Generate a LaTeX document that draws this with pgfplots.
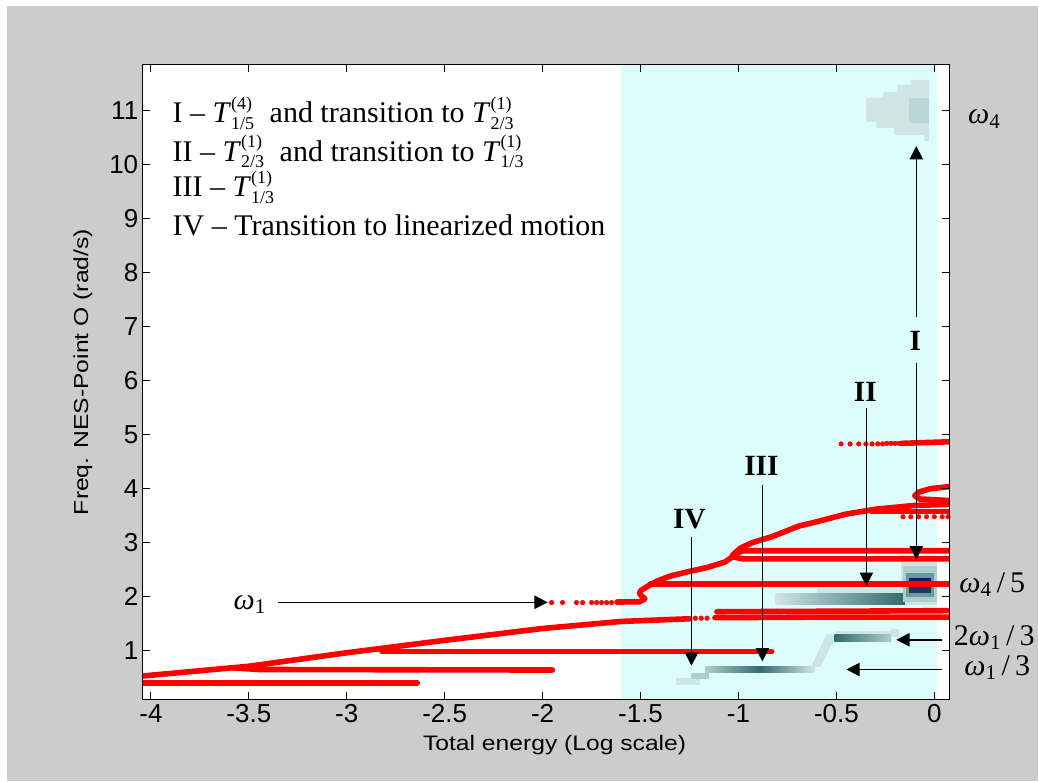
\documentclass[border=0pt]{standalone}
\usepackage{graphicx}
\usepackage{amsmath}
\usepackage{fontspec}
\setmainfont{Liberation Serif}
\newfontfamily\arial{Liberation Sans}
\usepackage{pgfplots}
\pgfplotsset{compat=1.18}
\usetikzlibrary{arrows.meta}

\definecolor{bggray}{RGB}{204,204,204}
\definecolor{cyanbg}{RGB}{221,253,253}
\definecolor{tLL}{RGB}{208,228,228}
\definecolor{tL}{RGB}{172,206,206}
\definecolor{tM}{RGB}{105,155,158}
\definecolor{tD}{RGB}{48,106,110}
\definecolor{tN}{RGB}{22,28,88}
\definecolor{tN2}{RGB}{40,50,105}

% regime symbol T with stacked upper and lower indices
\newcommand{\Tr}[2]{\textit{T}$^{\text{\fontsize{13.5}{14}\selectfont(#1)}}_{\text{\fontsize{13.5}{14}\selectfont #2}}$}

\tikzset{
  redline/.style={red, line width=4.2pt, line join=round, line cap=round},
  reddots/.style={red, only marks, mark=*, mark size=1.7pt},
  ann/.style={line width=1.1pt, -{Triangle[length=10pt,width=10pt]}},
  lbl/.style={font=\fontsize{22.5}{27}\selectfont},
  roman/.style={font=\bfseries\fontsize{22}{24}\selectfont},
}

\begin{document}
\begin{tikzpicture}[x=1pt,y=1pt]
\fill[white] (0,0) rectangle (779.25,586.5);
\fill[bggray] (5.25,0) rectangle (779.25,582);
\begin{axis}[
  at={(107.25pt,61.5pt)}, anchor=south west,
  scale only axis, width=605.25pt, height=476.25pt,
  xmin=-4.041, xmax=0.077, ymin=0.093, ymax=11.852,
  axis background/.style={fill=white},
  axis on top=true,
  clip mode=individual,
  axis line style={line width=0.75pt},
  tick align=inside, major tick length=5.5pt,
  tick style={black, line width=0.75pt},
  xtick={-4,-3.5,-3,-2.5,-2,-1.5,-1,-0.5,0},
  xticklabels={-4,-3.5,-3,-2.5,-2,-1.5,-1,-0.5,0},
  ytick={1,2,3,4,5,6,7,8,9,10,11},
  /pgf/number format/assume math mode=true,
  ticklabel style={font=\arial\fontsize{19.5}{20}\selectfont},
  xlabel={\scalebox{1}[0.85]{Total energy (Log scale)}},
  ylabel={\scalebox{1}[0.82]{Freq. NES-Point O (rad/s)}},
  xlabel style={font=\arial\fontsize{18.5}{20}\selectfont, at={(axis description cs:0.5105,-0.071)}, anchor=center},
  ylabel style={font=\arial\fontsize{18.5}{20}\selectfont, at={(axis description cs:-0.0743,0.516)}, anchor=center},
]
% shaded energy band
\addplot[draw=none, fill=cyanbg] coordinates {(-1.6,0.093) (0.015,0.093) (0.015,11.852) (-1.6,11.852)};

% spectral content near omega_1/3
\addplot[draw=none, fill=tLL] coordinates {(-1.318,0.36) (-1.199,0.36) (-1.199,0.49) (-1.318,0.49)};
\addplot[draw=none, fill=tL] coordinates {(-1.24,0.47) (-1.15,0.47) (-1.15,0.59) (-1.24,0.59)};
\addplot[draw=none, left color=tL, right color=tLL, middle color=tD] coordinates {(-1.17,0.59) (-0.612,0.59) (-0.612,0.70) (-1.17,0.70)};
% spectral content near 2 omega_1/3
\addplot[draw=none, fill=tLL] coordinates {(-0.63,0.70) (-0.58,0.70) (-0.50,1.30) (-0.55,1.30)};
\addplot[draw=none, fill=tLL] coordinates {(-0.50,1.29) (-0.22,1.29) (-0.22,1.36) (-0.50,1.36)};
\addplot[draw=none, left color=tD, right color=tL] coordinates {(-0.51,1.16) (-0.22,1.16) (-0.22,1.29) (-0.51,1.29)};
\addplot[draw=none, fill=tLL] coordinates {(-0.22,1.25) (-0.18,1.25) (-0.18,1.40) (-0.22,1.40)};
% spectral content near omega_4/5
\addplot[draw=none, fill=tLL] coordinates {(-0.168,1.85) (0.015,1.85) (0.015,2.78) (-0.168,2.78)};
\addplot[draw=none, fill=tLL] coordinates {(-0.60,2.06) (-0.168,2.06) (-0.168,2.14) (-0.60,2.14)};
\addplot[draw=none, left color=tLL, right color=tD] coordinates {(-0.81,1.86) (-0.15,1.86) (-0.15,2.06) (-0.81,2.06)};
\addplot[draw=none, fill=tL] coordinates {(-0.16,1.90) (0.012,1.90) (0.012,2.56) (-0.16,2.56)};
\addplot[draw=none, fill=tM] coordinates {(-0.143,2.0) (0.0,2.0) (0.0,2.44) (-0.143,2.44)};
\addplot[draw=none, fill=tN] coordinates {(-0.128,2.26) (-0.015,2.26) (-0.015,2.35) (-0.128,2.35)};
\addplot[draw=none, fill=tN2] coordinates {(-0.128,2.07) (-0.015,2.07) (-0.015,2.19) (-0.128,2.19)};
% spectral content near omega_4
\addplot[draw=none, fill=tLL] coordinates {(-0.117,11.574) (-0.026,11.574) (-0.026,10.444) (-0.051,10.444) (-0.051,10.556) (-0.204,10.556) (-0.204,10.685) (-0.296,10.685) (-0.296,10.796) (-0.347,10.796) (-0.347,11.241) (-0.260,11.241) (-0.260,11.352) (-0.189,11.352) (-0.189,11.481) (-0.117,11.481)};
\addplot[draw=none, fill=tL!60!tLL] coordinates {(-0.128,10.78) (-0.026,10.78) (-0.026,11.24) (-0.128,11.24)};

% frequency branches
\addplot[redline] coordinates {(-4.04,0.40) (-2.64,0.40)};
\addplot[redline] coordinates {(-4.04,0.53) (-3.5,0.71) (-3.0,0.96) (-2.5,1.19) (-2.0,1.41) (-1.6,1.54) (-1.25,1.59)};
\addplot[reddots] coordinates {(-1.22,1.60) (-1.19,1.60) (-1.16,1.60)};
\addplot[redline] coordinates {(-1.12,1.61) (-0.6,1.62) (0.08,1.62)};
\addplot[redline] coordinates {(-1.11,1.72) (-0.5,1.73) (0.08,1.74)};
\addplot[redline] coordinates {(-3.58,0.68) (-3.45,0.65) (-1.95,0.64)};
\addplot[redline] coordinates {(-2.82,0.98) (-0.83,0.98)};
\addplot[reddots] coordinates {(-1.954,1.89) (-1.898,1.89) (-1.827,1.89) (-1.796,1.89) (-1.750,1.89) (-1.724,1.89) (-1.699,1.89) (-1.673,1.89) (-1.648,1.89)};
\addplot[redline] coordinates {(-1.62,1.90) (-1.505,1.905) (-1.478,1.96) (-1.505,2.05) (-1.50,2.11) (-1.46,2.20) (-1.42,2.28) (-1.35,2.38) (-1.26,2.46) (-1.16,2.54) (-1.07,2.64) (-1.03,2.74) (-0.98,2.70) (0.08,2.70)};
\addplot[redline] coordinates {(-1.45,2.23) (0.08,2.23)};
\addplot[redline] coordinates {(-1.03,2.76) (-0.98,2.85) (0.08,2.85)};
\addplot[redline] coordinates {(-1.03,2.77) (-0.99,2.90) (-0.93,3.0) (-0.83,3.11) (-0.69,3.31) (-0.62,3.37) (-0.45,3.53) (-0.3,3.62) (-0.1,3.69) (0.08,3.71)};
\addplot[redline] coordinates {(-0.32,3.58) (0.08,3.58)};
\addplot[reddots] coordinates {(-0.16,3.48) (-0.12,3.48) (-0.08,3.48) (-0.04,3.48) (0.0,3.48) (0.04,3.48) (0.07,3.48)};
\addplot[redline] coordinates {(0.08,4.04) (-0.02,4.0) (-0.077,3.94) (-0.10,3.87) (-0.077,3.81) (0.08,3.78)};
\addplot[reddots] coordinates {(-0.476,4.83) (-0.430,4.83) (-0.386,4.83) (-0.349,4.83) (-0.318,4.83) (-0.289,4.83) (-0.264,4.83) (-0.243,4.84) (-0.221,4.84) (-0.201,4.84) (-0.18,4.84)};
\addplot[redline] coordinates {(-0.168,4.84) (0.08,4.87)};

% annotation arrows
\draw[ann] (axis cs:-3.35,1.895) -- (axis cs:-1.974,1.895);
\draw[ann] (axis cs:-1.24,3.11) -- (axis cs:-1.24,0.72);
\draw[ann] (axis cs:-0.878,4.06) -- (axis cs:-0.878,0.80);
\draw[ann] (axis cs:-0.347,5.50) -- (axis cs:-0.347,2.20);
\draw[ann] (axis cs:-0.092,6.33) -- (axis cs:-0.092,2.69);
\draw[ann] (axis cs:-0.092,7.19) -- (axis cs:-0.092,10.35);
\draw[ann] (axis cs:0.041,1.20) -- (axis cs:-0.194,1.20);
\draw[ann] (axis cs:0.041,0.65) -- (axis cs:-0.449,0.65);

% regime labels
\node[roman] at (axis cs:-1.25,3.43) {IV};
\node[roman] at (axis cs:-0.883,4.43) {III};
\node[roman] at (axis cs:-0.352,5.80) {II};
\node[roman] at (axis cs:-0.097,6.74) {I};

% frequency labels
\node[lbl] at (axis cs:-3.495,1.85) {\textit{ω}$_{\text{1}}$};
\node[lbl] at (axis cs:0.255,10.85) {\textit{ω}$_{\text{4}}$};
\node[lbl] at (axis cs:0.296,2.22) {\textit{ω}$_{\text{4}}$\,/\,5};
\node[lbl] at (axis cs:0.306,1.24) {2\textit{ω}$_{\text{1}}$\,/\,3};
\node[lbl] at (axis cs:0.321,0.69) {\textit{ω}$_{\text{1}}$\,/\,3};

% regime descriptions
\node[lbl, anchor=base west] at (axis cs:-3.913,10.78) {I -- \Tr{4}{1/5}\ \ and transition to \Tr{1}{2/3}};
\node[lbl, anchor=base west] at (axis cs:-3.913,10.07) {II -- \Tr{1}{2/3}\ \ and transition to \Tr{1}{1/3}};
\node[lbl, anchor=base west] at (axis cs:-3.913,9.41) {III -- \Tr{1}{1/3}};
\node[lbl, anchor=base west] at (axis cs:-3.913,8.70) {IV -- Transition to linearized motion};
\end{axis}
\end{tikzpicture}
\end{document}
